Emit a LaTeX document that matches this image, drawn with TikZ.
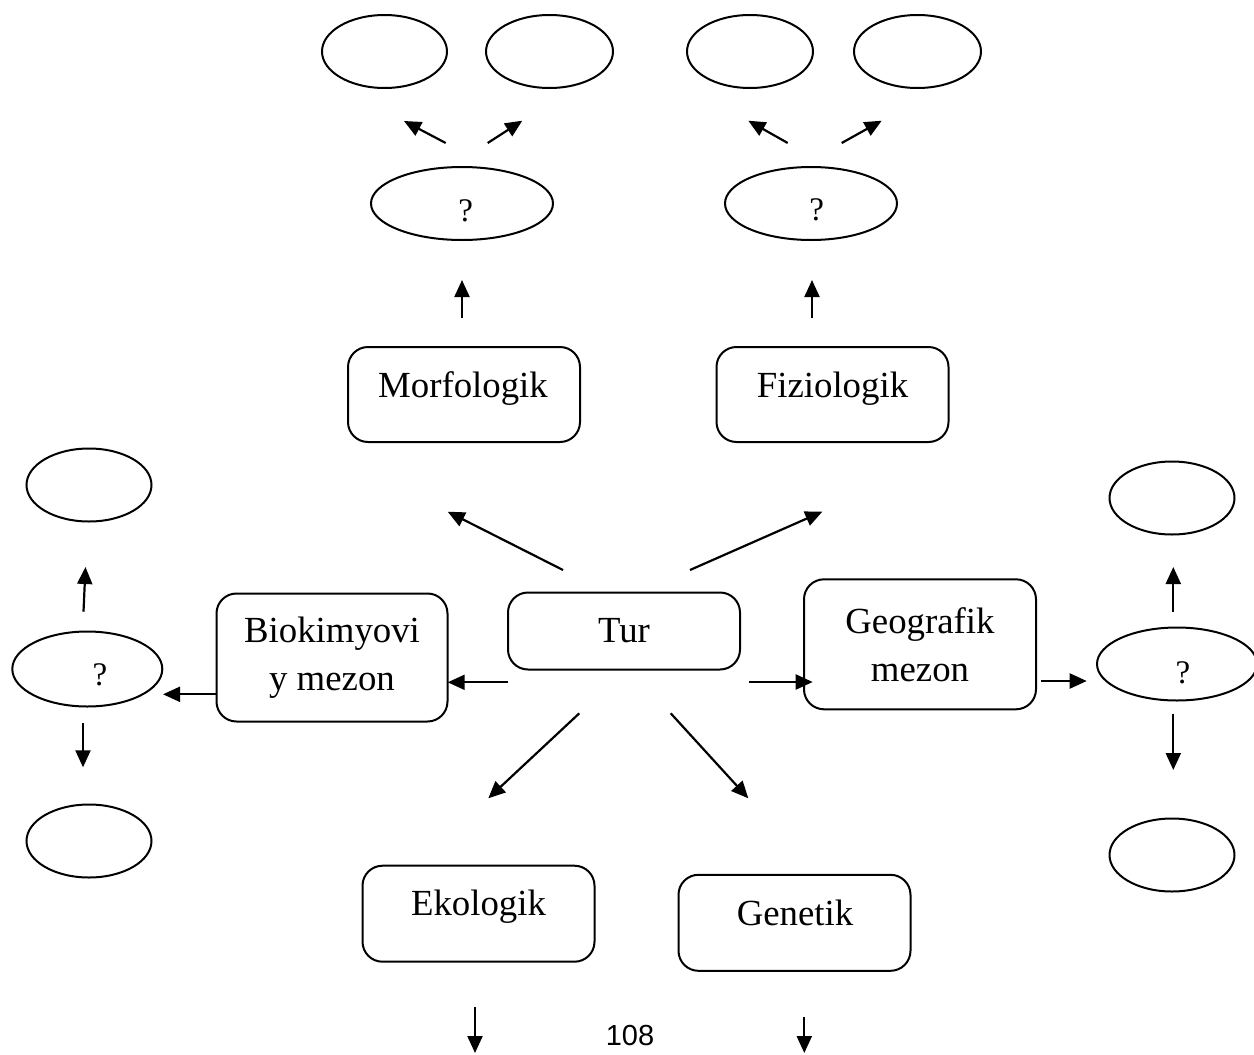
\documentclass[tikz,border=0pt]{standalone}
\usepackage{fontspec}
\setmainfont{Liberation Serif}
\newfontfamily\pagefont{Liberation Sans}
\usetikzlibrary{shapes.geometric,arrows.meta}
\begin{document}
\begin{tikzpicture}[x=0.5pt,y=-0.5pt,
  every node/.style={inner sep=0pt, outer sep=0pt},
  box/.style={draw, line width=1pt, rounded corners=10pt, minimum width=116pt, align=center, font=\fontsize{18.4}{24}\selectfont},
  oval/.style={draw, ellipse, line width=1pt, minimum width=62.5pt, minimum height=36.5pt},
  lbl/.style={font=\fontsize{18.4}{24}\selectfont, anchor=base},
  qm/.style={font=\fontsize{16.5}{19}\selectfont},
  arr/.style={line width=1.1pt, -{Triangle[length=8.5pt,width=7.5pt]}},
]
\useasboundingbox (0,0) rectangle (1254,1055);
\clip (0,0) rectangle (1254,1055);

% boxes
\node[box, minimum height=47.5pt] (morf) at (464,394.5) {};
\node[lbl] (morft) at (463,397) {Morfologik};
\node[box, minimum height=47.5pt] (fizi) at (832.5,394.5) {};
\node[lbl] (fizit) at (832.5,397) {Fiziologik};
\node[box, minimum height=38.5pt] (tur) at (624,631) {Tur};
\node[box, minimum height=64pt, minimum width=115.5pt] (bio) at (332,657.5) {Biokimyovi\\y mezon};
\node[box, minimum height=65pt] (geo) at (920,644.3) {Geografik\\mezon};
\node[box, minimum height=48pt] (eko) at (478.5,913.7) {};
\node[lbl] (ekot) at (478.5,915) {Ekologik};
\node[box, minimum height=48pt] (gen) at (794.5,922.8) {};
\node[lbl] (gent) at (795,925) {Genetik};

% ellipses top
\node[oval] (e1) at (384.5,51.5) {};
\node[oval, minimum width=63.5pt] (e2) at (549.5,51.5) {};
\node[oval, minimum width=63pt] (e3) at (750,51.5) {};
\node[oval, minimum width=63.5pt] (e4) at (917.5,51.5) {};
\node[oval, minimum width=91pt] (q1) at (462,203.5) {};
\node[qm] (q1t) at (465.7,211) {?};
\node[oval, minimum width=86pt] (q2) at (811,203.5) {};
\node[qm] (q2t) at (816.7,210) {?};

% left side
\node[oval] (lt) at (89,485) {};
\node[oval, minimum width=75pt, minimum height=37.5pt] (lq) at (87.3,669) {};
\node[qm] (lqt) at (100,675) {?};
\node[oval] (lb) at (89,841) {};

% right side
\node[oval] (rt) at (1172,498) {};
\node[oval, minimum width=80pt] (rq) at (1177,664) {};
\node[qm] (rqt) at (1183,673) {?};
\node[oval] (rb) at (1172,855) {};

% page number
\node[font=\pagefont\fontsize{14.5}{17}\selectfont] (pg) at (630,1036) {108};

% arrow end points
\coordinate (a1s) at (445.7,143);  \coordinate (a1e) at (404,121);
\coordinate (a2s) at (487.7,143);  \coordinate (a2e) at (522.3,120.7);
\coordinate (a3s) at (787.7,143);  \coordinate (a3e) at (748.3,120.7);
\coordinate (a4s) at (841.7,143);  \coordinate (a4e) at (881.7,120.7);
\coordinate (u1s) at (462,318);    \coordinate (u1e) at (462,280);
\coordinate (u2s) at (812,318);    \coordinate (u2e) at (812,280);
\coordinate (tuls) at (563,570);   \coordinate (tule) at (447.7,511.7);
\coordinate (turs) at (690,570);   \coordinate (ture) at (822.3,511.7);
\coordinate (tls) at (508,682.3);  \coordinate (tle) at (447.7,682.3);
\coordinate (trs) at (749,682);    \coordinate (tre) at (812.7,682);
\coordinate (tdls) at (579.3,713.3); \coordinate (tdle) at (488.3,798.3);
\coordinate (tdrs) at (670.7,713.3); \coordinate (tdre) at (748.3,798.3);
\coordinate (bls) at (216.7,694.3); \coordinate (ble) at (163,694.3);
\coordinate (lus) at (83.5,611.7); \coordinate (lue) at (85.5,567);
\coordinate (lds) at (83,723.3);   \coordinate (lde) at (83,767.3);
\coordinate (grs) at (1041,681);   \coordinate (gre) at (1086.7,681);
\coordinate (rus) at (1173.3,611.7); \coordinate (rue) at (1173.3,567);
\coordinate (rds) at (1173.3,714); \coordinate (rde) at (1173.3,770);
\coordinate (eds) at (475,1006.7); \coordinate (ede) at (475,1053);
\coordinate (gds) at (804.3,1016.7); \coordinate (gde) at (804.3,1053);

\foreach \s/\e in {a1s/a1e,a2s/a2e,a3s/a3e,a4s/a4e,u1s/u1e,u2s/u2e,tuls/tule,turs/ture,tls/tle,trs/tre,tdls/tdle,tdrs/tdre,bls/ble,lus/lue,lds/lde,grs/gre,rus/rue,rds/rde,eds/ede,gds/gde}
  \draw[arr] (\s) -- (\e);
\end{tikzpicture}
\end{document}
